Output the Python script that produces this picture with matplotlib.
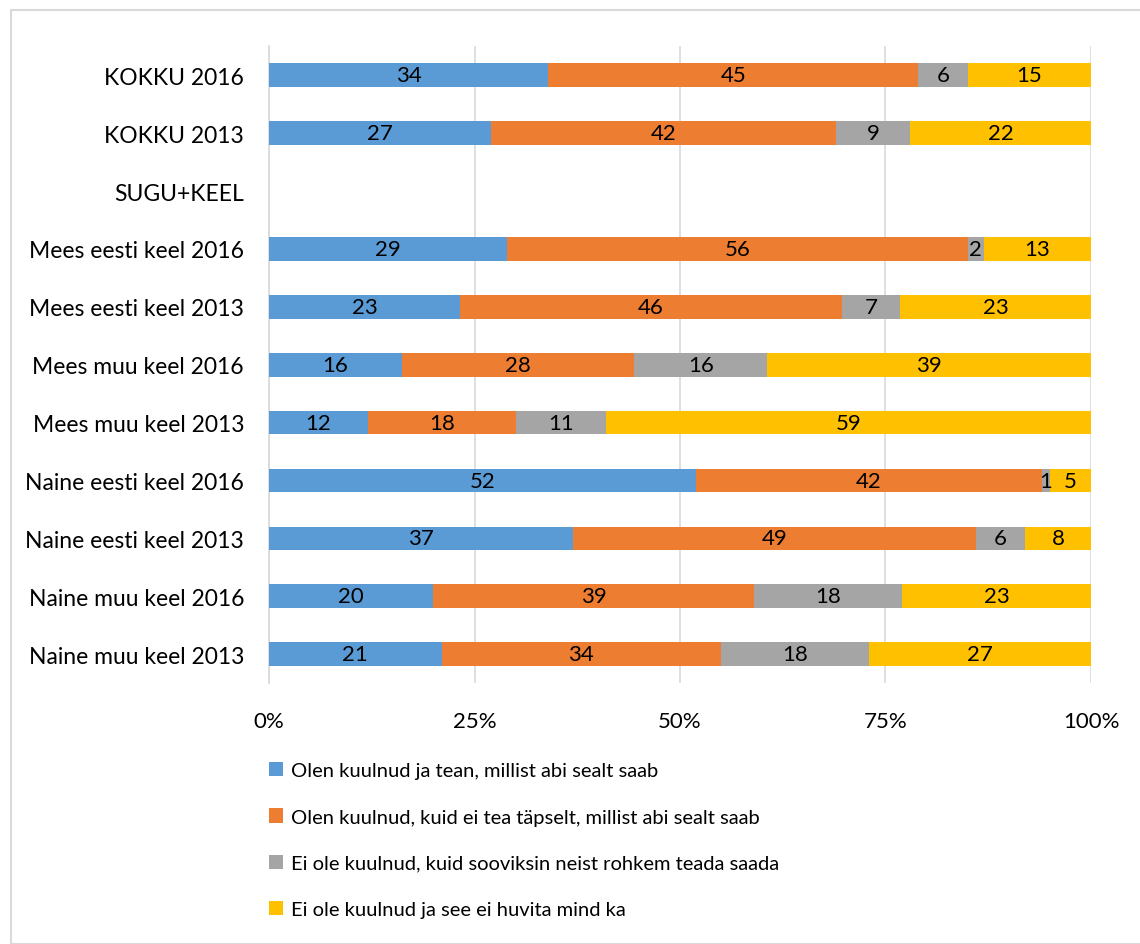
import numpy as np
import matplotlib.pyplot as plt
from matplotlib.patches import Rectangle

plt.rcParams['font.family'] = ['Lato', 'DejaVu Sans']

categories = ['KOKKU 2016', 'KOKKU 2013', 'SUGU+KEEL',
              'Mees eesti keel 2016', 'Mees eesti keel 2013',
              'Mees muu keel 2016', 'Mees muu keel 2013',
              'Naine eesti keel 2016', 'Naine eesti keel 2013',
              'Naine muu keel 2016', 'Naine muu keel 2013']

series_names = ['Olen kuulnud ja tean, millist abi sealt saab',
                'Olen kuulnud, kuid ei tea täpselt, millist abi sealt saab',
                'Ei ole kuulnud, kuid sooviksin neist rohkem teada saada',
                'Ei ole kuulnud ja see ei huvita mind ka']

# None = empty group heading row
tean = [34, 27, None, 29, 23, 16, 12, 52, 37, 20, 21]
ei_tea = [45, 42, None, 56, 46, 28, 18, 42, 49, 39, 34]
sooviksin = [6, 9, None, 2, 7, 16, 11, 1, 6, 18, 18]
ei_huvita = [15, 22, None, 13, 23, 39, 59, 5, 8, 23, 27]

colors = ['#5B9BD5', '#ED7D31', '#A5A5A5', '#FFC000']

vals = np.array([[np.nan if v is None else v for v in s]
                 for s in [tean, ei_tea, sooviksin, ei_huvita]], dtype=float)
totals = np.nansum(vals, axis=0)
totals[totals == 0] = 1
shares = np.nan_to_num(vals) / totals

fig = plt.figure(figsize=(11.4, 9.45), dpi=100)
ax = fig.add_axes([0.236, 0.276, 0.721, 0.674])

y = np.arange(len(categories))
left = np.zeros(len(categories))
for i in range(4):
    ax.barh(y, shares[i], left=left, height=0.41, color=colors[i],
            label=series_names[i], zorder=3)
    for j in range(len(categories)):
        if not np.isnan(vals[i, j]):
            ax.text(left[j] + shares[i, j] / 2, y[j], '%d' % vals[i, j],
                    ha='center', va='center', fontsize=16, color='black', zorder=4)
    left += shares[i]

ax.set_ylim(len(categories) - 0.5, -0.5)
ax.set_xlim(0, 1)
ax.set_yticks(y)
ax.set_yticklabels(categories, fontsize=16.5)
ax.set_xticks([0, 0.25, 0.5, 0.75, 1.0])
ax.set_xticklabels(['0%', '25%', '50%', '75%', '100%'], fontsize=16)
ax.tick_params(axis='both', length=0)
ax.tick_params(axis='x', pad=20)
ax.tick_params(axis='y', pad=18)
ax.grid(axis='x', color='#D9D9D9', linewidth=1.2, zorder=0)
for s in ['top', 'right', 'bottom']:
    ax.spines[s].set_visible(False)
ax.spines['left'].set_color('#D9D9D9')
ax.spines['left'].set_linewidth(1.2)

ax.legend(loc='upper left', bbox_to_anchor=(0.229, 0.201),
          bbox_transform=fig.transFigure, frameon=False, fontsize=14.5,
          handlelength=0.7, handleheight=0.7, handletextpad=0.4,
          labelspacing=1.45, borderaxespad=0)

fig.patches.append(Rectangle((11 / 1140, 0), 1.0, 1 - 11 / 945,
                             transform=fig.transFigure, fill=False,
                             edgecolor='#D9D9D9', linewidth=1.5))

fig.savefig('out.png', dpi=100)
